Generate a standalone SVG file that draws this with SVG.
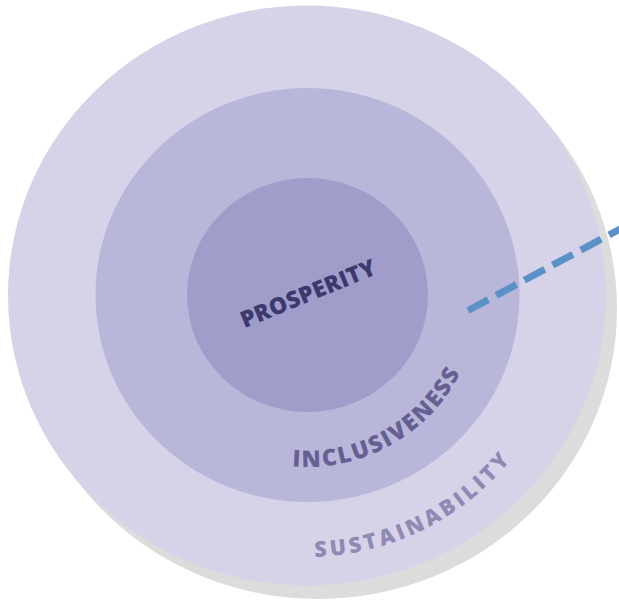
<svg xmlns="http://www.w3.org/2000/svg" xmlns:xlink="http://www.w3.org/1999/xlink" width="619" height="603" viewBox="0 0 619 603">
  <style>
    .lbl { font-family: "Open Sans", "Noto Sans", "Liberation Sans", sans-serif; font-weight: 800; }
    .connector { fill: none; stroke: #5a91c8; stroke-width: 7; stroke-dasharray: 23 9; }
  </style>
  <defs>
    <path id="arcIncl" d="M286,465.7 A172,172 0 0 0 468.6,353.8"/>
    <path id="arcSust" d="M297.9,556.8 A262,262 0 0 0 521.6,445.3"/>
  </defs>
  <rect width="619" height="603" fill="#ffffff"/>
  <g id="sustainability">
    <ellipse cx="318" cy="309" rx="299" ry="290" fill="#dcdcdc"/>
    <ellipse cx="307" cy="295.5" rx="299" ry="290" fill="#d6d3e8"/>
  </g>
  <g id="inclusiveness">
    <ellipse cx="307.5" cy="295" rx="212" ry="207" fill="#b8b6d9"/>
  </g>
  <g id="prosperity">
    <ellipse cx="307.5" cy="295" rx="120.5" ry="117" fill="#a09dca"/>
  </g>
  <g id="connectors">
    <line class="connector" x1="468" y1="310.5" x2="622" y2="228"/>
  </g>
  <g id="labels">
    <text class="lbl" x="311" y="301" font-size="23" fill="#3d396e" text-anchor="middle" textLength="144" lengthAdjust="spacing" transform="rotate(-22.3 311 301)">PROSPERITY</text>
    <text class="lbl" font-size="23" fill="#666092"><textPath xlink:href="#arcIncl" href="#arcIncl" startOffset="6" textLength="204" lengthAdjust="spacing">INCLUSIVENESS</textPath></text>
    <text class="lbl" font-size="21.5" fill="#8f89b4"><textPath xlink:href="#arcSust" href="#arcSust" startOffset="17" textLength="224" lengthAdjust="spacing">SUSTAINABILITY</textPath></text>
  </g>
</svg>
